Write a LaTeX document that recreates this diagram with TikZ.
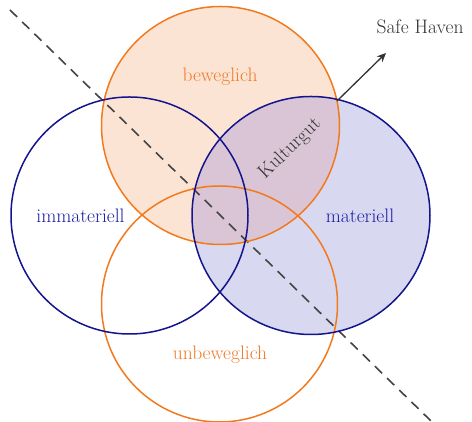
\documentclass[tikz,border=0pt]{standalone}
\usetikzlibrary{arrows.meta}
\definecolor{orline}{HTML}{F27A1E}
\definecolor{orfill}{HTML}{FCE4D5}
\definecolor{blline}{HTML}{14148C}
\definecolor{blfill}{HTML}{D8D8F0}
\definecolor{mixfill}{HTML}{D9C5D5}
\definecolor{bltext}{HTML}{1E1EA5}
\definecolor{ortext}{HTML}{F07A28}
\definecolor{graytext}{HTML}{333333}
\definecolor{dashcol}{HTML}{444444}
\tikzset{
  ring/.style={line width=1.5pt},
  lbl/.style={font=\fontsize{19.5}{22}\selectfont, inner sep=0pt},
}
\begin{document}
\begin{tikzpicture}[x=1pt,y=1pt]
\useasboundingbox (0,0) rectangle (472,422);
% centers
\coordinate (cT) at (220.5,296.5);
\coordinate (cL) at (129.5,206.5);
\coordinate (cR) at (311,206.5);
\coordinate (cB) at (219.5,118);
% fills
\fill[orfill] (cT) circle (119);
\fill[blfill] (cR) circle (119);
\begin{scope}
  \clip (cR) circle (119);
  \fill[mixfill] (cT) circle (119);
\end{scope}
% dashed line
\coordinate (dA) at (10,412);
\coordinate (dB) at (431,1);
\draw[dashcol, line width=1.6pt, dash pattern=on 10pt off 7pt] (dA) -- (dB);
% outlines
\draw[ring, orline] (cT) circle (119);
\draw[ring, orline] (cB) circle (118);
\draw[ring, blline] (cL) circle (118.5);
\draw[ring, blline] (cR) circle (119);
% labels
\node[lbl, text=ortext] (beweg) at (220,345) {beweglich};
\node[lbl, text=ortext] (unbeweg) at (220,67) {unbeweglich};
\node[lbl, text=bltext] (immat) at (80.5,206) {immateriell};
\node[lbl, text=bltext] (mat) at (360,206) {materiell};
\node[lbl, text=graytext, rotate=44] (kult) at (290,273) {Kulturgut};
\node[lbl, text=graytext] (safe) at (420,395) {Safe Haven};
% arrow
\coordinate (aS) at (337,321);
\coordinate (aE) at (386,369);
\draw[graytext, line width=1.3pt, -{Stealth[length=9pt,width=8pt]}] (aS) -- (aE);
\end{tikzpicture}
\end{document}
